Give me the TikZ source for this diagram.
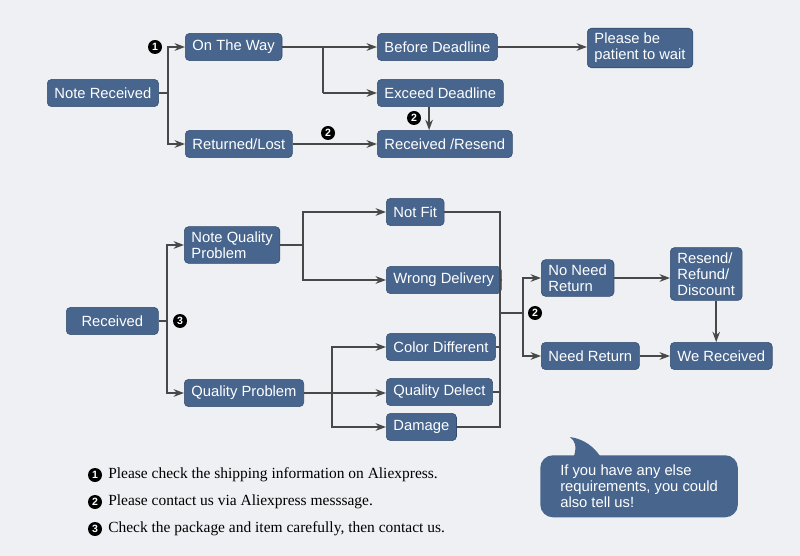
\documentclass[tikz,border=0pt]{standalone}
\usepackage{fontspec}
\setmainfont{Liberation Serif}
\setsansfont{Liberation Sans}
\usepackage{tikz}
\usetikzlibrary{arrows.meta}
\definecolor{flowBlue}{RGB}{71,101,141}
\definecolor{flowEdge}{RGB}{50,76,110}
\definecolor{flowLine}{RGB}{72,72,72}
\definecolor{pageGray}{RGB}{239,240,243}
\tikzset{
  box/.style={rounded corners=3pt, draw=flowEdge, fill=flowBlue, text=white, align=left, anchor=west,
              minimum height=6.8mm, inner xsep=1.8mm, inner ysep=1.2mm,
              font=\sffamily\fontsize{10.5}{11.5}\selectfont},
  badge/.style={circle, fill=black, text=white, inner sep=0pt, minimum size=3.5mm,
                font=\sffamily\bfseries\fontsize{7.5}{7.5}\selectfont},
  line/.style={line width=1.1pt, draw=flowLine},
  arrow/.style={line, -{Stealth[length=2.6mm,width=1.9mm]}},
  note/.style={anchor=west, inner sep=0pt, font=\rmfamily\fontsize{11}{12}\selectfont}
}

\begin{document}
\begin{tikzpicture}[x=0.025cm, y=-0.025cm]
\fill[pageGray] (0,0) rectangle (800,556);
\useasboundingbox (0,0) rectangle (800,556);
% first flow
\node[box] (nrc) at (47,93) {Note Received};
\node[box] (otw) at (185,47) {On The Way};
\node[box] (rls) at (185,144) {Returned/Lost};
\node[box] (bdl) at (377,47) {Before Deadline};
\node[box] (edl) at (377,93) {Exceed Deadline};
\node[box] (rrs) at (377,144) {Received /Resend};
\node[box] (pbp) at (587,48) {Please be\\patient to wait};
\draw[line] (nrc.east) -- (168,93) coordinate (bus1);
\draw[arrow] (bus1) |- (otw.west);
\draw[arrow] (bus1) |- (rls.west);
\draw[arrow] (otw.east) -- (otw.east -| bdl.west);
\draw[line] (otw.east -| 323,0) coordinate (bus2) -- (323,93);
\draw[arrow] (323,93) -- (edl.west);
\draw[arrow] (bdl.east) -- (bdl.east -| pbp.west);
\draw[arrow] (rls.east) -- (rls.east -| rrs.west);
\draw[arrow] ([xshift=-2.8mm]edl.south) -- ([xshift=-2.8mm]edl.south |- rrs.north);
\node[badge] (c1) at (155,47) {1};
\node[badge] (c2) at (328,133) {2};
\node[badge] (c2b) at (414,118) {2};
% second flow
\node[box, minimum width=23mm, align=center] (rcv) at (66,321) {Received};
\node[box] (nqp) at (184,245) {Note Quality\\Problem};
\node[box] (qpb) at (184,393) {Quality Problem};
\node[box] (nft) at (386,212) {Not Fit};
\node[box] (wdl) at (386,280) {Wrong Delivery};
\node[box] (cdf) at (386,347) {Color Different};
\node[box] (qdl) at (386,392) {Quality Delect};
\node[box] (dmg) at (386,427) {Damage};
\node[box] (nnr) at (541,278) {No Need\\Return};
\node[box] (ndr) at (541,356) {Need Return};
\node[box] (rrd) at (670,274) {Resend/\\Refund/\\Discount};
\node[box] (wrc) at (670,356) {We Received};
\draw[line] (rcv.east) -- (167,321) coordinate (bus3);
\draw[arrow] (bus3) |- (nqp.west);
\draw[arrow] (bus3) |- (qpb.west);
\draw[line] (nqp.east) -- (303,245) coordinate (bus4);
\draw[arrow] (bus4) |- (nft.west);
\draw[arrow] (bus4) |- (wdl.west);
\draw[arrow] (qpb.east) -- (qpb.east -| qdl.west);
\coordinate (bus5) at (332,392);
\draw[arrow] (bus5) |- (cdf.west);
\draw[arrow] (bus5) |- (dmg.west);
\coordinate (bus6) at (500,313);
\draw[line] (nft.east) -| (bus6);
\draw[line] (wdl.east) -| (bus6);
\draw[line] (cdf.east) -| (bus6);
\draw[line] (qdl.east) -| (bus6);
\draw[line] (dmg.east) -| (bus6);
\draw[line] (bus6) -- (523,313) coordinate (bus7);
\draw[arrow] (bus7) |- (nnr.west);
\draw[arrow] (bus7) |- (ndr.west);
\draw[arrow] (nnr.east) -- (nnr.east -| rrd.west);
\draw[arrow] (ndr.east) -- (ndr.east -| wrc.west);
\draw[arrow] ([xshift=2.5mm]rrd.south) -- ([xshift=2.5mm]rrd.south |- wrc.north);
\node[badge] (c3) at (180,321) {3};
\node[badge] (c2c) at (535,313) {2};
% notes
\node[badge] (k1) at (95,475) {1};
\node[badge] (k2) at (95,502) {2};
\node[badge] (k3) at (95,529) {3};
\node[note] (t1) at (108,475) {Please check the shipping information on Aliexpress.};
\node[note] (t2) at (108,502) {Please contact us via Aliexpress messsage.};
\node[note] (t3) at (108,529) {Check the package and item carefully, then contact us.};
% speech bubble
\fill[flowBlue] (574,456) .. controls (577,446) and (575,441) .. (570,437)
  .. controls (584,439) and (594,447) .. (600,456) -- cycle;
\node[box, draw=none, minimum width=48.25mm, minimum height=15.5mm, rounded corners=9pt,
      inner xsep=5mm, anchor=north west] (bub) at (540,455)
  {If you have any else\\requirements, you could\\also tell us!};
\end{tikzpicture}
\end{document}
